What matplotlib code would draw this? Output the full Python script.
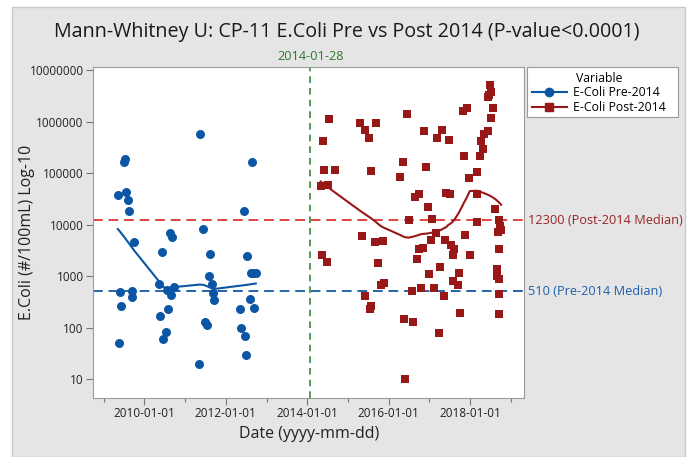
import numpy as np
import matplotlib
matplotlib.use("Agg")
import matplotlib.pyplot as plt
import matplotlib.dates as mdates
import matplotlib.transforms as mtransforms
from matplotlib.lines import Line2D
from matplotlib.patches import Rectangle
from datetime import datetime

plt.rcParams["font.family"] = ["Open Sans", "DejaVu Sans"]

# data (decimal year, E.coli #/100mL)
pre_years = [2009.35, 2009.50, 2009.52, 2009.55, 2009.61, 2009.63, 2009.75, 2009.40, 2009.44,
             2009.38, 2009.69, 2009.71, 2010.43, 2010.63, 2010.69, 2010.35, 2010.56, 2010.66,
             2010.72, 2010.58, 2010.38, 2010.53, 2010.47, 2011.38, 2011.45, 2011.62, 2011.58,
             2011.67, 2011.70, 2011.72, 2011.48, 2011.54, 2011.35, 2012.44, 2012.65, 2012.53,
             2012.61, 2012.67, 2012.74, 2012.59, 2012.70, 2012.35, 2012.38, 2012.47, 2012.49]
pre_vals = [37600, 165000, 185000, 43600, 30000, 18000, 4600, 500, 270,
            50, 510, 390, 3000, 6800, 5700, 690, 530, 435,
            630, 230, 170, 81, 60, 575000, 8100, 2700, 1000,
            690, 470, 350, 130, 112, 20, 18000, 163000, 2450,
            1150, 1150, 1150, 365, 245, 230, 100, 69, 30]

post_years = [2014.53, 2014.39, 2014.42, 2014.67, 2014.33, 2014.50, 2014.37, 2014.48,
              2015.29, 2015.43, 2015.51, 2015.69, 2015.57, 2015.35, 2015.67, 2015.85,
              2015.75, 2015.82, 2015.89, 2015.41, 2015.57, 2015.53, 2016.46, 2016.35,
              2016.29, 2016.49, 2016.65, 2016.75, 2016.96, 2017.07, 2016.87, 2016.92,
              2017.19, 2017.31, 2017.47, 2017.41, 2017.51, 2017.16, 2017.05, 2016.74,
              2016.84, 2016.70, 2016.99, 2017.27, 2016.58, 2016.80, 2017.12, 2017.36,
              2016.38, 2016.61, 2017.24, 2016.41, 2017.38, 2017.53, 2017.60, 2017.58,
              2017.73, 2017.58, 2017.71, 2017.87, 2017.99, 2017.76, 2017.84, 2017.82,
              2017.93, 2017.96, 2018.17, 2018.18, 2018.17, 2018.24, 2018.31, 2018.27,
              2018.33, 2018.43, 2018.52, 2018.56, 2018.45, 2018.51, 2018.47, 2018.49,
              2018.61, 2018.72, 2018.74, 2018.68, 2018.76, 2018.72, 2018.65, 2018.65,
              2018.71, 2018.71, 2018.71]
post_vals = [1120000, 420000, 115000, 115000, 55000, 59000, 2570, 1900,
             930000, 690000, 490000, 930000, 112000, 6000, 4600, 4800,
             1800, 660, 740, 410, 270, 230, 1400000, 163000,
             83000, 12300, 35000, 39000, 22000, 12600, 660000, 132000,
             490000, 690000, 435000, 42000, 39000, 6900, 5000, 3400,
             3500, 2200, 1120, 1500, 510, 600, 600, 415,
             150, 130, 80, 10, 5000, 4000, 3300, 2600,
             1150, 810, 660, 6300, 2570, 195, 215000, 1600000,
             1850000, 81000, 107000, 39000, 11200, 215000, 295000, 415000,
             575000, 665000, 1180000, 1860000, 3000000, 3800000, 3300000, 5100000,
             20000, 12300, 9500, 7200, 7900, 3300, 1350, 1000,
             890, 445, 185]

pre_median = 510
post_median = 12300
cutoff = "2014-01-28"
ytick_vals = [10, 100, 1000, 10000, 100000, 1000000, 10000000]

blue = "#0b56a4"
red = "#981717"


def yr2num(y):
    y = np.asarray(y, dtype=float)
    base = np.array([mdates.date2num(datetime(int(v), 1, 1)) for v in y])
    return base + (y - np.floor(y)) * 365.25


def lowess(x, y, frac=0.5, iters=2):
    order = np.argsort(x)
    x, y = x[order], y[order]
    n = len(x)
    r = int(np.ceil(frac * n))
    fit = np.zeros(n)
    delta = np.ones(n)
    for _ in range(iters + 1):
        for i in range(n):
            d = np.abs(x - x[i])
            h = max(np.sort(d)[r - 1], 1e-9)
            w = (1 - np.clip(d / h, 0, 1) ** 3) ** 3 * delta
            A = np.vstack([np.ones(n), x - x[i]]).T
            sw = np.sqrt(w)
            coef = np.linalg.lstsq(A * sw[:, None], y * sw, rcond=None)[0]
            fit[i] = coef[0]
        res = y - fit
        s = np.median(np.abs(res))
        u = np.clip(res / (6 * s), -1, 1)
        delta = (1 - u ** 2) ** 2
    return x, fit


fig = plt.figure(figsize=(6.9, 4.57), dpi=100)
fig.patches.append(Rectangle((12 / 690, 0), 673 / 690, 450 / 457, transform=fig.transFigure,
                             facecolor="#e5e5e5", edgecolor="#c8c8c8", lw=1, zorder=-10))
# legend frame
fig.patches.append(Rectangle((527 / 690, 1 - 117 / 457), 151 / 690, 49.7 / 457,
                             transform=fig.transFigure, facecolor="white",
                             edgecolor="#9a9a9a", lw=0.8, zorder=-5))
ax = fig.add_axes([93.3 / 690, 1 - 397.7 / 457, 431 / 690, 330.4 / 457])

px = yr2num(pre_years)
qx = yr2num(post_years)

ax.axhline(post_median, color="#e04242", ls=(0, (5, 3)), lw=1.4, zorder=1)
ax.axhline(pre_median, color="#2463ad", ls=(0, (5, 3)), lw=1.4, zorder=1)
cut = mdates.date2num(datetime.strptime(cutoff, "%Y-%m-%d"))
ax.axvline(cut, color="#3a8a3a", ls=(0, (4, 3)), lw=1.2, zorder=1)

ax.scatter(px, pre_vals, s=42, marker="o", color=blue, zorder=3, linewidths=0)
ax.scatter(qx, post_vals, s=40, marker="s", color=red, zorder=3, linewidths=0)

sx, sy = lowess(px, np.log10(pre_vals))
ax.plot(sx, 10 ** sy, color=blue, lw=1.5, zorder=4)
sx, sy = lowess(qx, np.log10(post_vals))
ax.plot(sx, 10 ** sy, color=red, lw=1.5, zorder=4)

ax.set_yscale("log")
ax.set_ylim(10 ** 0.643, 10 ** 7.052)
ax.set_yticks(ytick_vals)
ax.set_yticklabels([str(v) for v in ytick_vals])
ax.yaxis.set_minor_locator(matplotlib.ticker.NullLocator())

ax.set_xlim(yr2num([2008.75])[0], yr2num([2019.33])[0])
ax.xaxis.set_major_locator(mdates.YearLocator(2))
ax.xaxis.set_minor_locator(mdates.YearLocator(1))
ax.xaxis.set_major_formatter(mdates.DateFormatter("%Y-%m-%d"))
ax.tick_params(axis="both", which="major", direction="out", length=5, width=0.8,
               color="#777777", labelsize=8.5, labelcolor="#222222", pad=2)
ax.tick_params(axis="x", which="minor", direction="out", length=3, width=0.8, color="#777777")
for sp in ax.spines.values():
    sp.set_color("#9a9a9a")

ax.set_xlabel("Date (yyyy-mm-dd)", fontsize=11.5, color="#222222")
ax.set_ylabel("E.Coli (#/100mL) Log-10", fontsize=11.5, color="#222222")
ax.xaxis.set_label_coords(0.5, -(426 - 397.7) / 330.4)
ax.yaxis.set_label_coords((35 - 93.3) / 431, 0.5)
fig.text(347 / 690, 1 - 37.5 / 457,
         "Mann-Whitney U: CP-11 E.Coli Pre vs Post 2014 (P-value<0.0001)",
         ha="center", va="baseline", fontsize=14.2, color="#1a1a1a")

tr = mtransforms.blended_transform_factory(ax.transAxes, ax.transData)
ax.text(1.009, post_median, f"{post_median} (Post-2014 Median)", transform=tr,
        ha="left", va="center", fontsize=9.2, color="#9b2424", clip_on=False)
ax.text(1.009, pre_median, f"{pre_median} (Pre-2014 Median)", transform=tr,
        ha="left", va="center", fontsize=9.2, color="#1f5fae", clip_on=False)
trx = mtransforms.blended_transform_factory(ax.transData, ax.transAxes)
ax.text(cut, 1.034, cutoff, transform=trx, ha="center", va="center",
        fontsize=9.2, color="#2e7a2e", clip_on=False)

handles = [Line2D([], [], color=blue, marker="o", ms=6, lw=1.5),
           Line2D([], [], color=red, marker="s", ms=6, lw=1.5)]
leg = fig.legend(handles, ["E-Coli Pre-2014", "E-Coli Post-2014"], title="Variable",
                 loc="upper left", bbox_to_anchor=(528 / 690, 1 - 67.3 / 457),
                 borderaxespad=0, fontsize=8.8, title_fontsize=8.8, frameon=False,
                 handlelength=2.8, borderpad=0.35, labelspacing=0.15, handletextpad=0.5)

fig.savefig("out.png", dpi=100)
